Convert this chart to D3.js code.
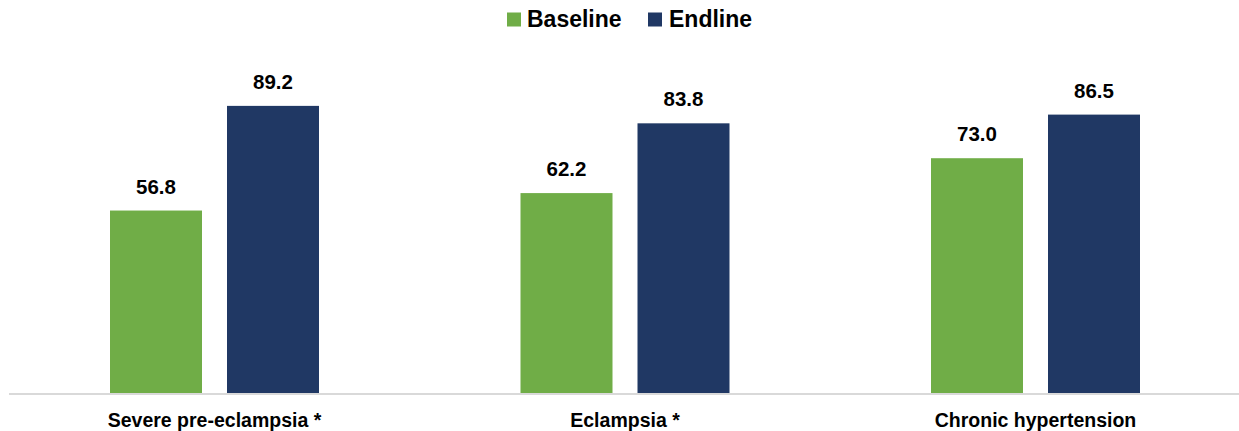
<!DOCTYPE html>
<html><head><meta charset="utf-8">
<script src="https://cdn.jsdelivr.net/npm/d3@7"></script>
<style>html,body{margin:0;padding:0;background:#fff;}svg{display:block;}</style>
</head><body>
<svg id="chart" width="1239" height="431"></svg>
<script>
const categories = ["Severe pre-eclampsia *", "Eclampsia *", "Chronic hypertension"];
const seriesNames = ["Baseline", "Endline"];
const baseline = [56.8, 62.2, 73.0];
const endline = [89.2, 83.8, 86.5];
const colors = ["#70AD47", "#203864"];

const svg = d3.select("#chart");
const font = "'Liberation Sans', Arial, sans-serif";

const x0 = d3.scaleBand().domain(categories).range([9.25, 1240.75]).paddingInner(0).paddingOuter(0);
const x1 = d3.scaleBand().domain(seriesNames).range([100.75, 309.75]).paddingInner(25/117).paddingOuter(0);
const y = d3.scaleLinear().domain([0, 100]).range([394, 71]);

const data = categories.map((c, i) => ({cat: c, vals: [baseline[i], endline[i]]}));

const g = svg.selectAll("g.cat").data(data).join("g").attr("class", "cat")
  .attr("transform", d => `translate(${x0(d.cat)},0)`);

g.selectAll("rect").data(d => d.vals.map((v, j) => ({s: seriesNames[j], v, j})))
  .join("rect")
  .attr("x", d => x1(d.s)).attr("width", x1.bandwidth())
  .attr("y", d => y(d.v)).attr("height", d => y(0) - y(d.v))
  .attr("fill", d => colors[d.j]);

g.selectAll("text.val").data(d => d.vals.map((v, j) => ({s: seriesNames[j], v, j})))
  .join("text").attr("class", "val")
  .attr("x", d => x1(d.s) + x1.bandwidth() / 2)
  .attr("y", d => y(d.v) - 17)
  .attr("text-anchor", "middle")
  .attr("font-family", font).attr("font-weight", "bold").attr("font-size", 20.5)
  .attr("fill", "#000")
  .text(d => d.v.toFixed(1));

// axis
const xAxis = d3.axisBottom(x0).tickSize(0).tickPadding(0);
const ax = svg.append("g").attr("transform", `translate(0,${y(0)})`).call(xAxis);
ax.select(".domain").attr("stroke", "#d9d9d9").attr("stroke-width", 2).attr("d", `M9,0H1239`);
ax.selectAll(".tick text").attr("font-family", font).attr("font-weight", "bold")
  .attr("font-size", 19.5).attr("fill", "#000").attr("y", 33).attr("dy", 0);

// legend
const legend = svg.append("g");
const legendItems = [
  {name: seriesNames[0], color: colors[0], sx: 507, tx: 527},
  {name: seriesNames[1], color: colors[1], sx: 648, tx: 669}
];
legendItems.forEach(it => {
  legend.append("rect").attr("x", it.sx).attr("y", 12.5).attr("width", 14).attr("height", 14).attr("fill", it.color);
  legend.append("text").attr("x", it.tx).attr("y", 27)
    .attr("font-family", font).attr("font-weight", "bold").attr("font-size", 23)
    .attr("fill", "#000").text(it.name);
});
</script>
</body></html>
